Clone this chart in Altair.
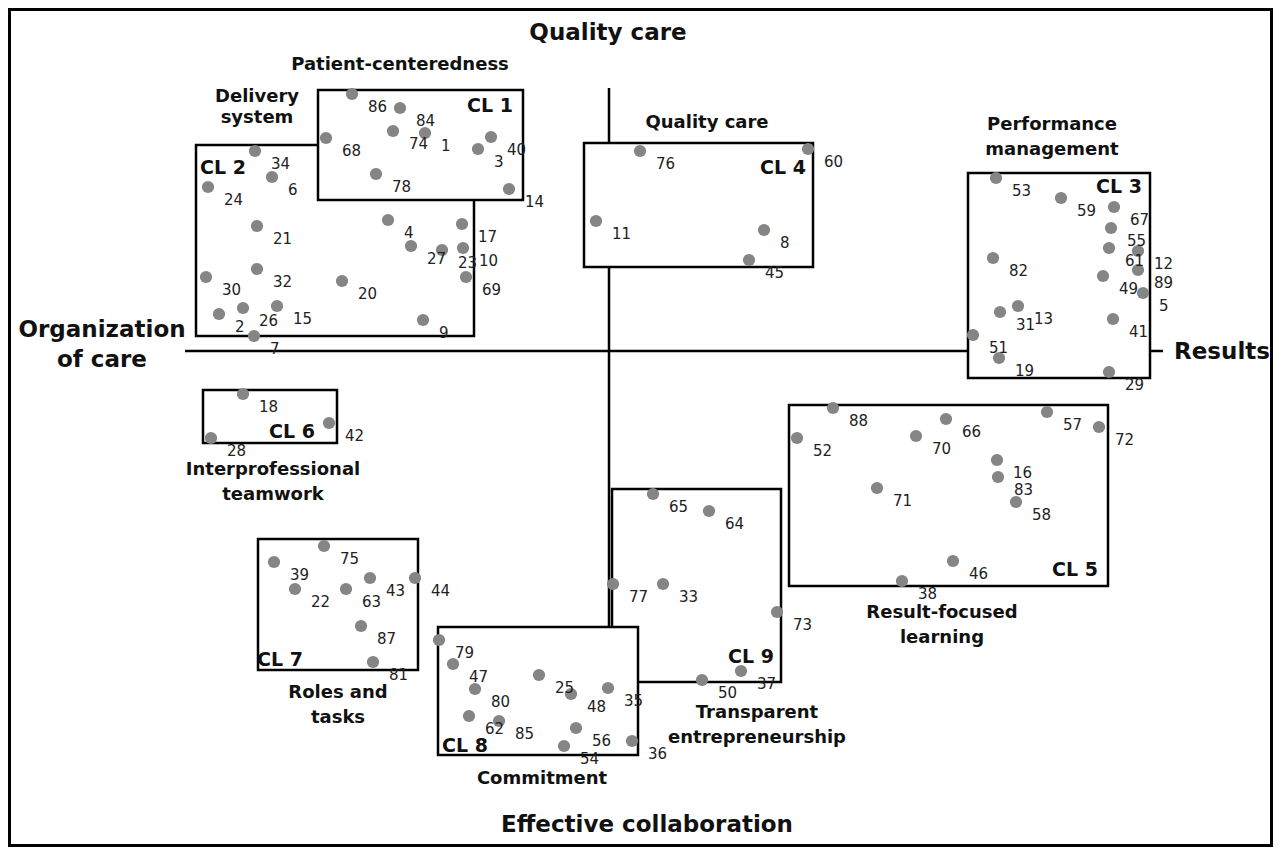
import altair as alt
import pandas as pd

# ---- point data (statement number, map x, map y) ----
point_ids = [86, 84, 74, 1, 68, 3, 40, 78, 14,
             34, 6, 24, 21, 32, 30, 20, 4, 27, 23, 10, 17, 69, 15, 26, 2, 7, 9,
             53, 59, 67, 55, 61, 12, 89, 49, 5, 82, 13, 31, 51, 19, 41, 29,
             76, 60, 11, 8, 45,
             88, 52, 66, 70, 57, 72, 16, 83, 58, 71, 46, 38,
             18, 42, 28,
             75, 39, 22, 63, 43, 44, 87, 81,
             79, 47, 80, 62, 85, 25, 48, 35, 56, 54, 36,
             65, 64, 77, 33, 73, 50, 37]
point_x = [352, 400, 393, 425, 326, 478, 491, 376, 509,
           255, 272, 208, 257, 257, 206, 342, 388, 411, 442, 463, 462, 466, 277, 243, 219, 254, 423,
           996, 1061, 1114, 1111, 1109, 1138, 1138, 1103, 1143, 993, 1018, 1000, 973, 999, 1113, 1109,
           640, 808, 596, 764, 749,
           833, 797, 946, 916, 1047, 1099, 997, 998, 1016, 877, 953, 902,
           243, 329, 211,
           324, 274, 295, 346, 370, 415, 361, 373,
           439, 453, 475, 469, 499, 539, 571, 608, 576, 564, 632,
           653, 709, 613, 663, 777, 702, 741]
point_y = [94, 108, 131, 133, 138, 149, 137, 174, 189,
           151, 177, 187, 226, 269, 277, 281, 220, 246, 250, 248, 224, 277, 306, 308, 314, 336, 320,
           178, 198, 207, 228, 248, 251, 270, 276, 293, 258, 306, 312, 335, 358, 319, 372,
           151, 149, 221, 230, 260,
           408, 438, 419, 436, 412, 427, 460, 477, 502, 488, 561, 581,
           394, 423, 438,
           546, 562, 589, 589, 578, 578, 626, 662,
           640, 664, 689, 716, 721, 675, 694, 688, 728, 746, 741,
           494, 511, 584, 584, 612, 680, 671]

# ---- cluster boxes (draw order: later boxes cover earlier ones) ----
cluster_names = ["CL 2", "CL 1", "CL 4", "CL 3", "CL 5", "CL 6", "CL 7", "CL 9", "CL 8"]
box_x1 = [196, 318, 584, 968, 789, 203, 258, 612, 438]
box_x2 = [474, 523, 813, 1150, 1108, 337, 418, 781, 638]
box_y1 = [145, 90, 143, 173, 405, 390, 539, 489, 627]
box_y2 = [336, 200, 267, 378, 586, 443, 670, 682, 755]
cl_label_x = [223, 490, 783, 1119, 1075, 292, 280, 751, 465]
cl_label_y = [168, 106, 168, 187, 570, 432, 660, 657, 746]

# ---- cluster theme names (one row per text line) ----
theme_text = ["Delivery", "system", "Patient-centeredness", "Quality care",
              "Performance", "management", "Result-focused", "learning",
              "Interprofessional", "teamwork", "Roles and", "tasks",
              "Commitment", "Transparent", "entrepreneurship"]
theme_x = [257, 257, 400, 707, 1052, 1052, 942, 942, 273, 273, 338, 338, 542, 757, 757]
theme_y = [97, 118, 65, 123, 125, 150, 613, 638, 470, 495, 693, 718, 779, 713, 738]

# ---- dimension axes ----
axis_x1 = [185, 609]
axis_x2 = [1163, 609]
axis_y1 = [351, 88]
axis_y2 = [351, 627]
dim_text = ["Quality care", "Effective collaboration", "Organization", "of care", "Results"]
dim_x = [608, 647, 102, 102, 1222]
dim_y = [33, 825, 330, 360, 352]

points = pd.DataFrame({"id": [str(i) for i in point_ids], "x": point_x, "y": point_y})
boxes = pd.DataFrame({"name": cluster_names, "x1": box_x1, "x2": box_x2, "y1": box_y1, "y2": box_y2,
                      "order": list(range(len(cluster_names)))})
cl_labels = pd.DataFrame({"name": cluster_names, "x": cl_label_x, "y": cl_label_y})
themes = pd.DataFrame({"t": theme_text, "x": theme_x, "y": theme_y})
axes = pd.DataFrame({"x1": axis_x1, "x2": axis_x2, "y1": axis_y1, "y2": axis_y2})
dims = pd.DataFrame({"t": dim_text, "x": dim_x, "y": dim_y})
frame = pd.DataFrame({"x1": [9.5], "x2": [1271.5], "y1": [9.5], "y2": [845.5]})

XS = alt.Scale(domain=[8, 1273], nice=False, zero=False)
YS = alt.Scale(domain=[8, 847], nice=False, zero=False, reverse=True)

def X(f):
    return alt.X(f, type="quantitative", scale=XS, axis=None)

def Y(f):
    return alt.Y(f, type="quantitative", scale=YS, axis=None)

frame_layer = alt.Chart(frame).mark_rect(fill="white", stroke="black", strokeWidth=3).encode(
    x=X("x1"), x2="x2", y=Y("y1"), y2="y2")

axis_layer = alt.Chart(axes).mark_rule(color="black", strokeWidth=2.5).encode(
    x=X("x1"), x2="x2", y=Y("y1"), y2="y2")

box_layer = alt.Chart(boxes).mark_rect(fill="white", stroke="black", strokeWidth=2.5).encode(
    x=X("x1"), x2="x2", y=Y("y1"), y2="y2", order=alt.Order("order:Q"))

point_layer = alt.Chart(points).mark_point(filled=True, shape="circle", size=150,
                                           color="#858585", opacity=1).encode(
    x=X("x"), y=Y("y"))

label_layer = alt.Chart(points).mark_text(align="left", baseline="middle", dx=16, dy=13,
                                          font="DejaVu Sans", fontSize=15, color="#222222").encode(
    x=X("x"), y=Y("y"), text="id:N")

cl_layer = alt.Chart(cl_labels).mark_text(align="center", baseline="middle", font="DejaVu Sans",
                                          fontSize=19, fontWeight="bold", color="#111111").encode(
    x=X("x"), y=Y("y"), text="name:N")

theme_layer = alt.Chart(themes).mark_text(align="center", baseline="middle", font="DejaVu Sans",
                                          fontSize=18, fontWeight="bold", color="#111111").encode(
    x=X("x"), y=Y("y"), text="t:N")

dim_layer = alt.Chart(dims).mark_text(align="center", baseline="middle", font="DejaVu Sans",
                                      fontSize=23, fontWeight="bold", color="#111111").encode(
    x=X("x"), y=Y("y"), text="t:N")

chart = alt.layer(frame_layer, axis_layer, box_layer, point_layer, label_layer,
                  cl_layer, theme_layer, dim_layer).properties(
    width=1265, height=839, padding=0, autosize="none"
).configure_view(stroke=None)

chart.save("out.html", embed_options={"renderer": "svg", "actions": False})
